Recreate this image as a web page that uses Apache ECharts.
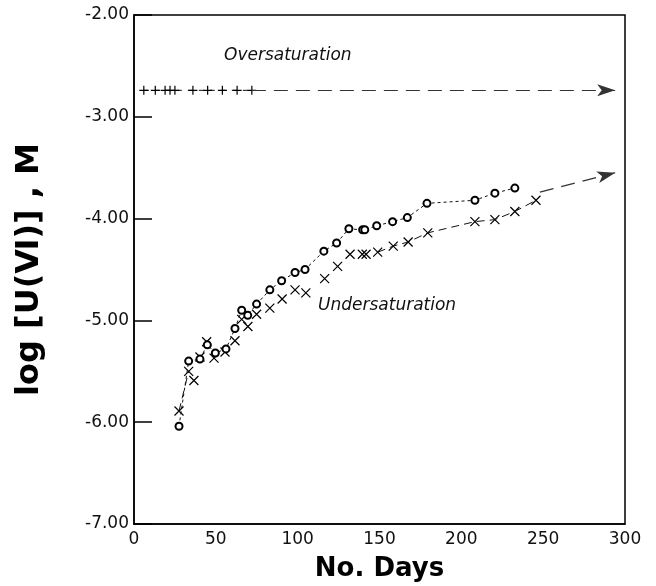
<!DOCTYPE html>
<html>
<head>
<meta charset="utf-8">
<script src="https://cdn.jsdelivr.net/npm/echarts@6/dist/echarts.min.js"></script>
<style>
  html, body { margin: 0; padding: 0; background: #fff; }
  #main { width: 656px; height: 586px; }
</style>
</head>
<body>
<div id="main"></div>
<script>
// days / log[U(VI)]
var overPlus = [[6, -2.74], [13, -2.74], [19, -2.74], [22, -2.74], [25, -2.74],
    [36, -2.74], [45, -2.74], [54, -2.74], [63, -2.74], [72, -2.74]];
var underCircle = [[27.5, -6.04], [33.4, -5.40], [40.3, -5.38], [44.8, -5.24], [49.7, -5.32],
    [56.2, -5.28], [61.7, -5.08], [65.8, -4.90], [69.5, -4.95], [74.9, -4.84], [83, -4.70],
    [90.2, -4.61], [98.4, -4.53], [104.5, -4.50], [116, -4.32], [123.8, -4.24], [131.3, -4.10],
    [139.7, -4.11], [141, -4.11], [148.3, -4.07], [158, -4.03], [167, -3.99], [179, -3.85],
    [208.3, -3.82], [220.5, -3.75], [232.7, -3.70]];
var underCross = [[27.5, -5.89], [33.4, -5.50], [36.6, -5.59], [40.3, -5.36], [44.4, -5.21],
    [48.9, -5.37], [55.6, -5.31], [61.7, -5.20], [65.8, -4.99], [69.6, -5.06], [74.9, -4.94],
    [83, -4.88], [90.5, -4.79], [98.4, -4.70], [105, -4.73], [116.5, -4.59], [124.4, -4.47],
    [132, -4.35], [139.5, -4.35], [141.8, -4.35], [148.9, -4.33], [158.4, -4.27], [167.5, -4.23],
    [179.5, -4.14], [208.3, -4.03], [220.5, -4.01], [232.7, -3.93], [245.6, -3.82]];
var overArrow = [[72, -2.74], [294, -2.74]];
var underArrow = [[248, -3.74], [294, -3.55]];
var xTicks = [0, 50, 100, 150, 200, 250, 300];
var yTicks = [-7, -6, -5, -4, -3, -2];

var plusSym = 'path://M5,0L5,10M0,5L10,5';
var crossSym = 'path://M0,0L10,10M10,0L0,10';

// crosses are only joined at the start and along the tail
var crossLine = underCross.map(function (p, i) {
    return (i < 2 || p[0] >= 148) ? p : [p[0], null];
});

var chart = echarts.init(document.getElementById('main'));
var option = {
    animation: false,
    grid: {
        left: 134, right: 31, top: 15, bottom: 62,
        outerBoundsMode: 'none', containLabel: false,
        show: true, borderColor: '#000', borderWidth: 1.5
    },
    xAxis: {
        type: 'value', min: xTicks[0], max: xTicks[xTicks.length - 1], interval: 50,
        name: 'No. Days', nameLocation: 'middle', nameGap: 32,
        nameTextStyle: { fontFamily: 'DejaVu Sans', fontWeight: 'bold', fontSize: 26, color: '#000' },
        axisLine: { lineStyle: { color: '#000', width: 1.5 } },
        axisTick: { show: false },
        splitLine: { show: false },
        axisLabel: { fontFamily: 'DejaVu Sans', fontSize: 17, color: '#111', margin: 7 }
    },
    yAxis: {
        type: 'value', min: yTicks[0], max: yTicks[yTicks.length - 1], interval: 1,
        name: 'log [U(Ⅵ)] , M', nameLocation: 'middle', nameGap: 88, nameRotate: 90,
        nameTextStyle: { fontFamily: 'DejaVu Sans', fontWeight: 'bold', fontSize: 32, color: '#000' },
        axisLine: { lineStyle: { color: '#000', width: 1.5 } },
        axisTick: { inside: true, length: 18, lineStyle: { color: '#000', width: 1.5 } },
        splitLine: { show: false },
        axisLabel: {
            fontFamily: 'DejaVu Sans', fontSize: 17, color: '#111', margin: 5,
            formatter: function (v) { return v.toFixed(2); }
        }
    },
    graphic: [
        { type: 'text', left: 224, top: 47,
          style: { text: 'Oversaturation', font: 'italic 17px "DejaVu Sans"', fill: '#111' } },
        { type: 'text', left: 318, top: 297,
          style: { text: 'Undersaturation', font: 'italic 17px "DejaVu Sans"', fill: '#111' } }
    ],
    series: [
        {
            type: 'line', data: overPlus, showAllSymbol: true,
            symbol: plusSym, symbolSize: 9,
            itemStyle: { color: 'transparent', borderColor: '#000', borderWidth: 1.2 },
            lineStyle: { color: '#111', width: 1, type: [5, 6] },
            markLine: {
                silent: true, symbol: ['none', 'arrow'], symbolSize: [9, 18],
                label: { show: false },
                lineStyle: { color: '#333', width: 1.2, type: [14, 8] },
                data: [[{ coord: overArrow[0] }, { coord: overArrow[1] }]]
            }
        },
        {
            type: 'line', data: underCircle, showAllSymbol: true,
            symbol: 'emptyCircle', symbolSize: 7,
            itemStyle: { color: '#000', borderColor: '#000', borderWidth: 0.8 },
            lineStyle: { color: '#111', width: 1, type: [3, 3] }
        },
        {
            type: 'line', data: crossLine, connectNulls: false,
            symbol: 'none',
            lineStyle: { color: '#111', width: 1, type: [8, 5] },
            markLine: {
                silent: true, symbol: ['none', 'arrow'], symbolSize: [9, 18],
                label: { show: false },
                lineStyle: { color: '#333', width: 1.2, type: [14, 8] },
                data: [[{ coord: underArrow[0] }, { coord: underArrow[1] }]]
            }
        },
        {
            type: 'scatter', data: underCross,
            symbol: crossSym, symbolSize: 9,
            itemStyle: { color: 'transparent', borderColor: '#000', borderWidth: 1.2, opacity: 1 }
        }
    ]
};
chart.setOption(option);
</script>
</body>
</html>
